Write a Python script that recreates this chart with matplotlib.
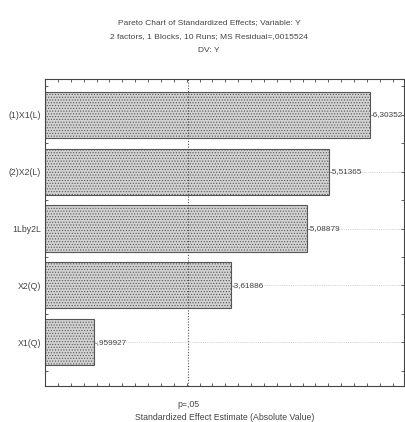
import matplotlib
matplotlib.use("Agg")
import matplotlib.pyplot as plt
import numpy as np
from matplotlib.ticker import MultipleLocator

plt.rcParams['font.family'] = ['Liberation Sans Narrow', 'Liberation Sans', 'DejaVu Sans']
plt.rcParams['hatch.color'] = '#8a8a8a'
plt.rcParams['hatch.linewidth'] = 0.5

categories = ["(1)X1(L)", "(2)X2(L)", "1Lby2L", "X2(Q)", "X1(Q)"]
effects = [-6.30352, -5.51365, -5.08879, -3.61886, -0.959927]
value_labels = ["-6,30352", "-5,51365", "-5,08879", "-3,61886", "-,959927"]
p_value_t = 2.776
p_label = "p=,05"
title_lines = ["Pareto Chart of Standardized Effects; Variable: Y",
               "2 factors, 1 Blocks, 10 Runs; MS Residual=,0015524",
               "DV: Y"]
xlabel = "Standardized Effect Estimate (Absolute Value)"

fig = plt.figure(figsize=(4.05, 4.22), dpi=100)
ax = fig.add_axes([45/405, 1-386/422, (404-45)/405, (386-79)/422])

ypos = np.arange(len(categories))
absvals = np.abs(effects)
txtc = '#444444'

for y in ypos:
    ax.axhline(y, color='#c4c4c4', lw=0.6, ls=(0, (1, 1.2)), zorder=0)
ax.axvline(p_value_t, color='#555555', lw=0.8, ls=(0, (1, 1.5)), zorder=3)

ax.barh(ypos, absvals, height=0.81, color='#d2d2d2', edgecolor='#555555',
        linewidth=0.8, hatch='......', zorder=2)

for y, v, lab in zip(ypos, absvals, value_labels):
    ax.text(v + 0.01, y, lab, va='center', ha='left', fontsize=5.9, color=txtc,
            zorder=4, clip_on=False)

ax.set_xlim(0, 6.97)
ax.set_ylim(4.77, -0.63)
ax.set_yticks(ypos)
ax.set_yticklabels(categories, fontsize=6.3, color=txtc)
ax.yaxis.set_minor_locator(MultipleLocator(0.5))
ax.xaxis.set_major_locator(MultipleLocator(0.25))
ax.set_xticklabels([])
ax.tick_params(axis='both', which='both', direction='in', length=2.5, width=0.6,
               top=True, right=True, colors='#444444', labelcolor=txtc, pad=3)
for s in ax.spines.values():
    s.set_color('#444444')
    s.set_linewidth(0.8)

ax.text(p_value_t, -0.045, p_label, transform=ax.get_xaxis_transform(),
        ha='center', va='top', fontsize=6.3, color=txtc)
fig.text(225/405, 1-417/422, xlabel, ha='center', va='center', fontsize=6.3, color=txtc)

for line, yy in zip(title_lines, [23, 37, 50]):
    fig.text(209/405, 1-yy/422, line, ha='center', va='center', fontsize=6.0, color=txtc)

fig.savefig("out.png", dpi=100)
